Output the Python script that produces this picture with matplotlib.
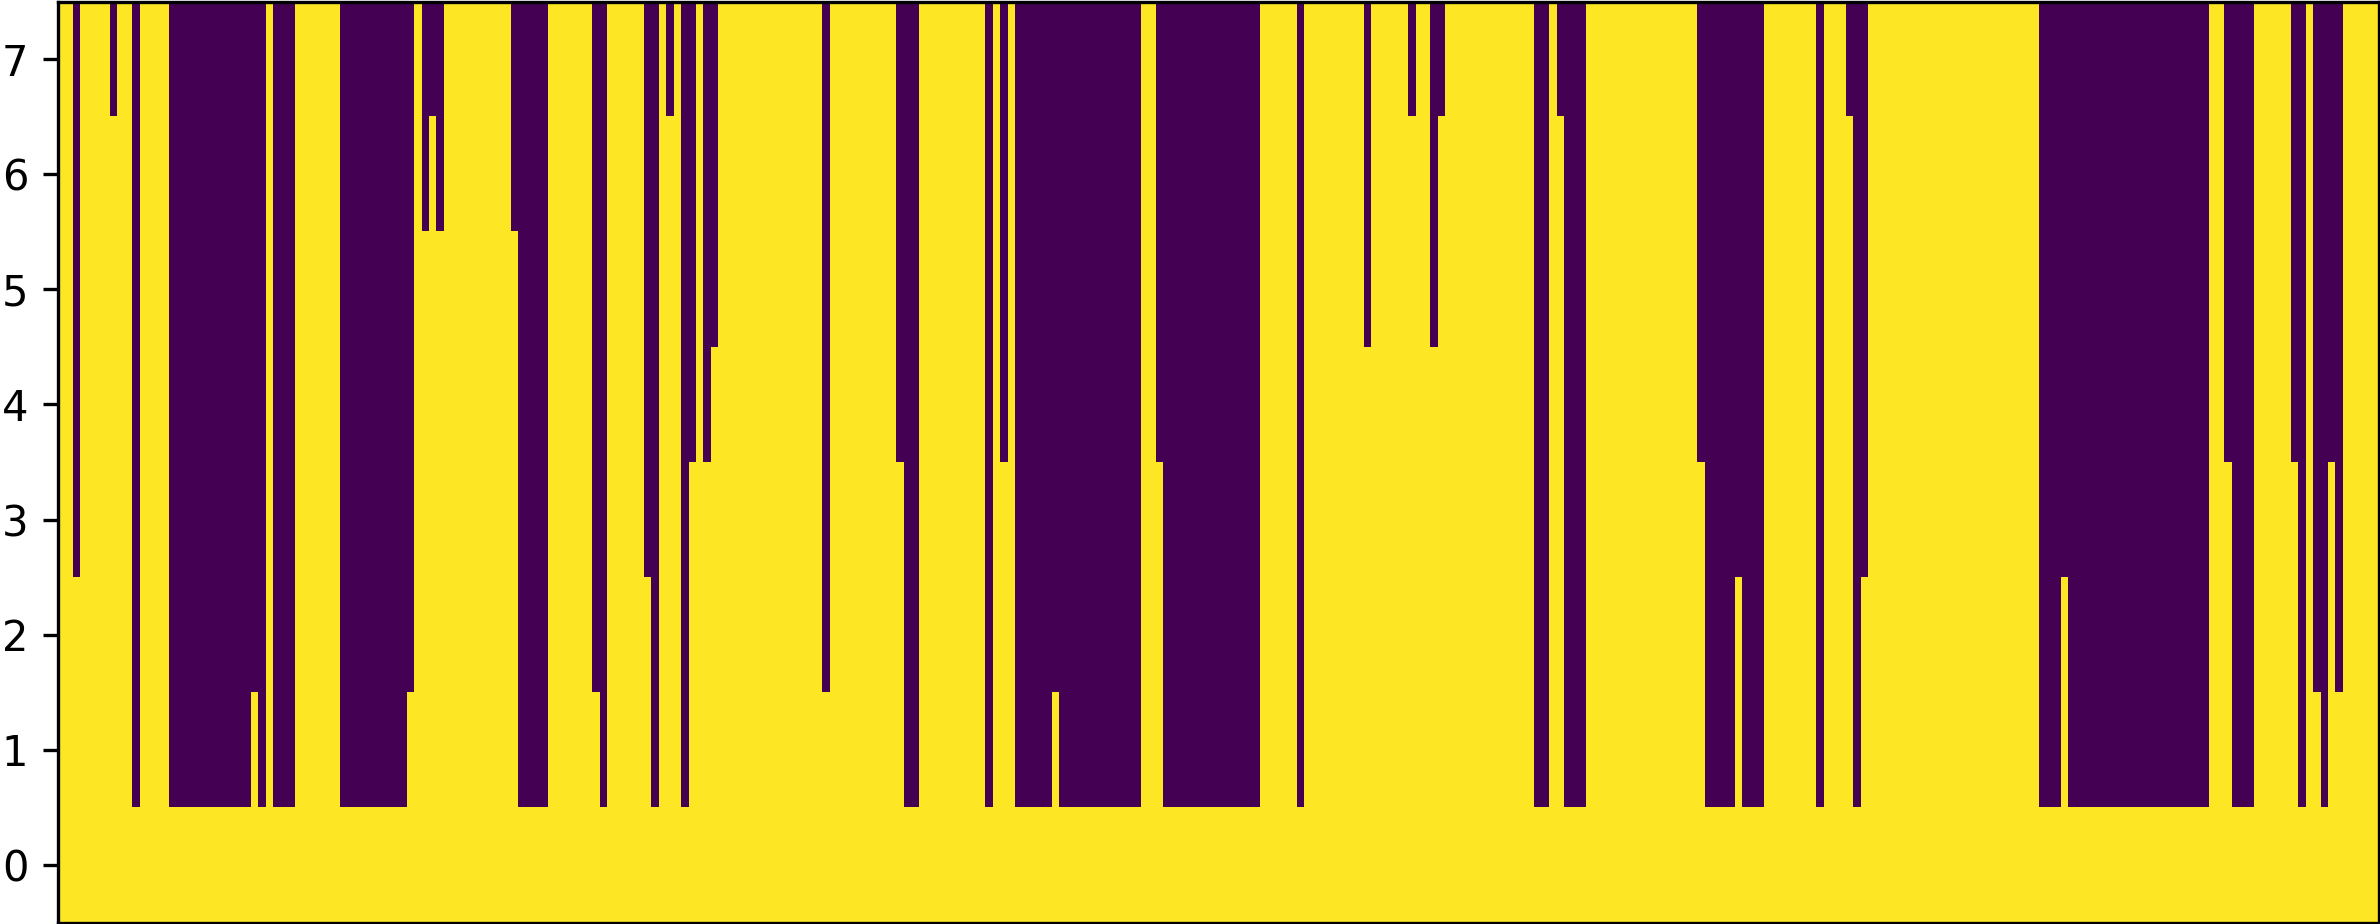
import numpy as np
import matplotlib
matplotlib.use("Agg")
import matplotlib.pyplot as plt

# number of yellow cells (from the bottom row up) in each column
heights = [
    8, 8, 3, 8, 8, 8, 8, 7, 8, 8, 1, 8, 8, 8, 8,
    1, 1, 1, 1, 1, 1, 1, 1, 1, 1, 1, 2, 1, 8, 1, 1, 1,
    8, 8, 8, 8, 8, 8, 1, 1, 1, 1, 1, 1, 1, 1, 1,
    2, 8, 6, 7, 6, 8, 8, 8, 8, 8, 8, 8, 8, 8, 6, 1, 1, 1, 1,
    8, 8, 8, 8, 8, 8, 2, 1, 8, 8, 8, 8, 8,
    3, 1, 8, 7, 8, 1, 4, 8, 4, 5,
    8, 8, 8, 8, 8, 8, 8, 8, 8, 8, 8, 8, 8, 8, 2,
    8, 8, 8, 8, 8, 8, 8, 8, 8, 4, 1, 1,
    8, 8, 8, 8, 8, 8, 8, 8, 8, 1, 8, 4, 8,
    1, 1, 1, 1, 1, 2, 1, 1, 1, 1, 1, 1, 1, 1, 1, 1, 1, 8, 8, 4,
    1, 1, 1, 1, 1, 1, 1, 1, 1, 1, 1, 1, 1, 8, 8, 8, 8, 8, 1,
    8, 8, 8, 8, 8, 8, 8, 8, 5, 8, 8, 8, 8, 8, 7, 8, 8, 5, 7,
    8, 8, 8, 8, 8, 8, 8, 8, 8, 8, 8, 8, 1, 1, 8, 7, 1, 1, 1,
    8, 8, 8, 8, 8, 8, 8, 8, 8, 8, 8, 8, 8, 8, 8, 4, 1, 1, 1, 1, 3, 1, 1, 1,
    8, 8, 8, 8, 8, 8, 8, 1, 8, 8, 8, 7, 1, 3,
    8, 8, 8, 8, 8, 8, 8, 8, 8, 8, 8, 8,
    8, 8, 8, 8, 8, 8, 8, 8, 8, 8, 8,
    1, 1, 1, 3,
    1, 1, 1, 1, 1, 1, 1, 1, 1, 1,
    1, 1, 1, 1, 1, 1, 1, 1, 1,
    8, 8, 4, 1, 1, 1, 8, 8, 8, 8, 8,
    4, 1, 8, 2, 1, 4, 2, 8, 8, 8, 8, 8,
]
n_rows = 8
row_ticks = list(range(n_rows))

# build the 0/1 mask: row r is on when r < height of that column
mask = np.array([[1 if r < h else 0 for h in heights] for r in range(n_rows)])

fig = plt.figure(figsize=(2380 / 300, 924 / 300), dpi=300)
ax = fig.add_axes([57.5 / 2380, 1.5 / 924, (2379 - 57.5) / 2380, 921 / 924])
ax.imshow(mask, aspect='auto', origin='lower', cmap='viridis',
          interpolation='nearest')
ax.set_yticks(row_ticks)
ax.set_xticks([])

fig.savefig('out.png', dpi=300)
